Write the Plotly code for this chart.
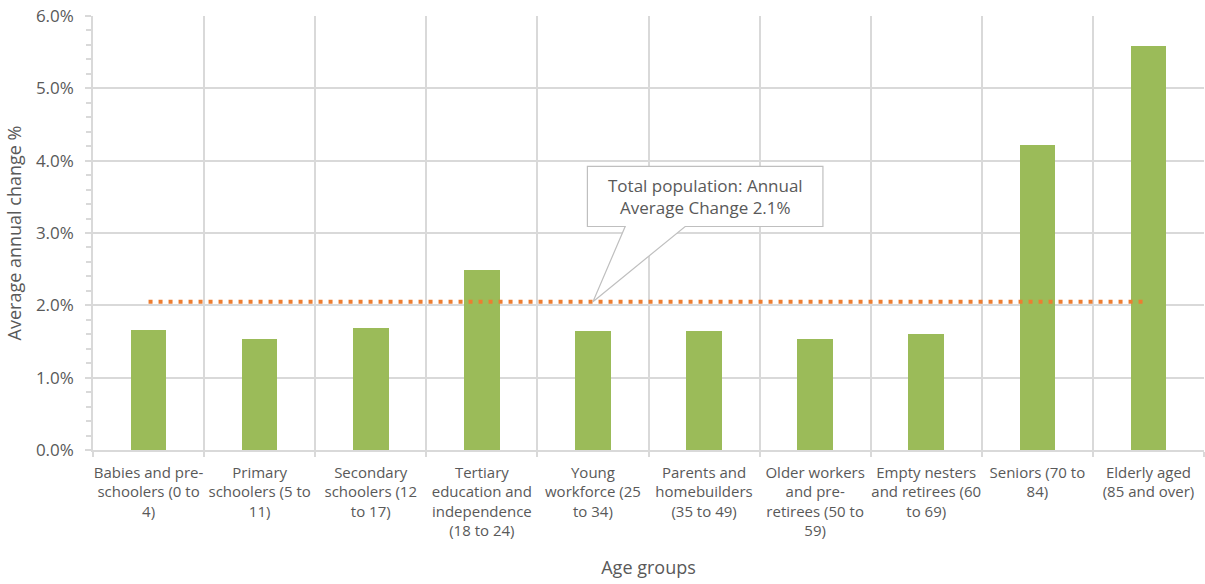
import plotly.graph_objects as go

# Age group categories (x-axis tick labels, wrapped)
age_groups = [
    "Babies and pre-<br>schoolers (0 to<br>4)",
    "Primary<br>schoolers (5 to<br>11)",
    "Secondary<br>schoolers (12<br>to 17)",
    "Tertiary<br>education and<br>independence<br>(18 to 24)",
    "Young<br>workforce (25<br>to 34)",
    "Parents and<br>homebuilders<br>(35 to 49)",
    "Older workers<br>and pre-<br>retirees (50 to<br>59)",
    "Empty nesters<br>and retirees (60<br>to 69)",
    "Seniors (70 to<br>84)",
    "Elderly aged<br>(85 and over)",
]

# Average annual change per age group (fraction)
annual_change = [0.0166, 0.0153, 0.0168, 0.0249, 0.0164,
                 0.0164, 0.0153, 0.0161, 0.0421, 0.0559]

# Total population average annual change (fraction)
total_change = 0.0205

GREEN = "#9BBB59"
ORANGE = "#ED7D31"
GRID = "#D9D9D9"
TEXT = "#595959"
FONT = "Open Sans"

fig = go.Figure()

fig.add_trace(go.Bar(
    x=age_groups,
    y=annual_change,
    marker=dict(color=GREEN, line=dict(width=0)),
    width=0.32,
    showlegend=False,
    hoverinfo="x+y",
))

fig.add_trace(go.Scatter(
    x=age_groups,
    y=[total_change] * len(age_groups),
    mode="lines",
    line=dict(color=ORANGE, width=4, dash="4px,6px"),
    showlegend=False,
))

# Callout box pointing at the total-population line
callout_idx = 4
box_x0, box_x1 = callout_idx - 0.05, callout_idx + 2.07
box_y0, box_y1 = 0.0309, 0.0392
ptr_a, ptr_b = callout_idx + 0.29, callout_idx + 0.83
path = (
    f"M {box_x0},{box_y1} L {box_x1},{box_y1} L {box_x1},{box_y0} "
    f"L {ptr_b},{box_y0} L {callout_idx},{total_change} L {ptr_a},{box_y0} "
    f"L {box_x0},{box_y0} Z"
)
fig.add_shape(
    type="path", path=path, xref="x", yref="y",
    line=dict(color="#BFBFBF", width=1.2), fillcolor="white", layer="above",
)
fig.add_annotation(
    x=(box_x0 + box_x1) / 2, y=(box_y0 + box_y1) / 2, xref="x", yref="y",
    text=f"Total population: Annual<br>Average Change {total_change * 100:.1f}%",
    showarrow=False, font=dict(family=FONT, size=17, color=TEXT),
)

fig.update_layout(
    width=1205, height=584,
    margin=dict(l=93, r=1, t=16, b=134),
    plot_bgcolor="white", paper_bgcolor="white",
    font=dict(family=FONT, color=TEXT),
    bargap=0,
)

fig.update_xaxes(
    type="category",
    tickson="boundaries",
    showgrid=True, gridcolor=GRID, gridwidth=1.5,
    showline=True, linecolor=GRID, linewidth=1.5,
    ticks="outside", ticklen=5, tickcolor=GRID, tickwidth=1.5,
    ticklabelstandoff=8,
    tickfont=dict(family=FONT, size=15, color=TEXT),
    tickangle=0,
    title=dict(text="Age groups", font=dict(family=FONT, size=18, color=TEXT), standoff=22),
)

fig.update_yaxes(
    range=[0, 0.06],
    dtick=0.01, tickformat=".1%",
    showgrid=True, gridcolor=GRID, gridwidth=1.5,
    showline=True, linecolor=GRID, linewidth=1.5,
    ticks="outside", ticklen=6, tickcolor=GRID, tickwidth=1.5,
    minor=dict(dtick=0.002, ticks="outside", ticklen=5, tickcolor=GRID, tickwidth=1.5, showgrid=False),
    zeroline=False,
    ticklabelstandoff=8,
    tickfont=dict(family=FONT, size=17, color=TEXT),
    title=dict(text="Average annual change %", font=dict(family=FONT, size=18, color=TEXT), standoff=10),
)

fig.write_html("out.html")
